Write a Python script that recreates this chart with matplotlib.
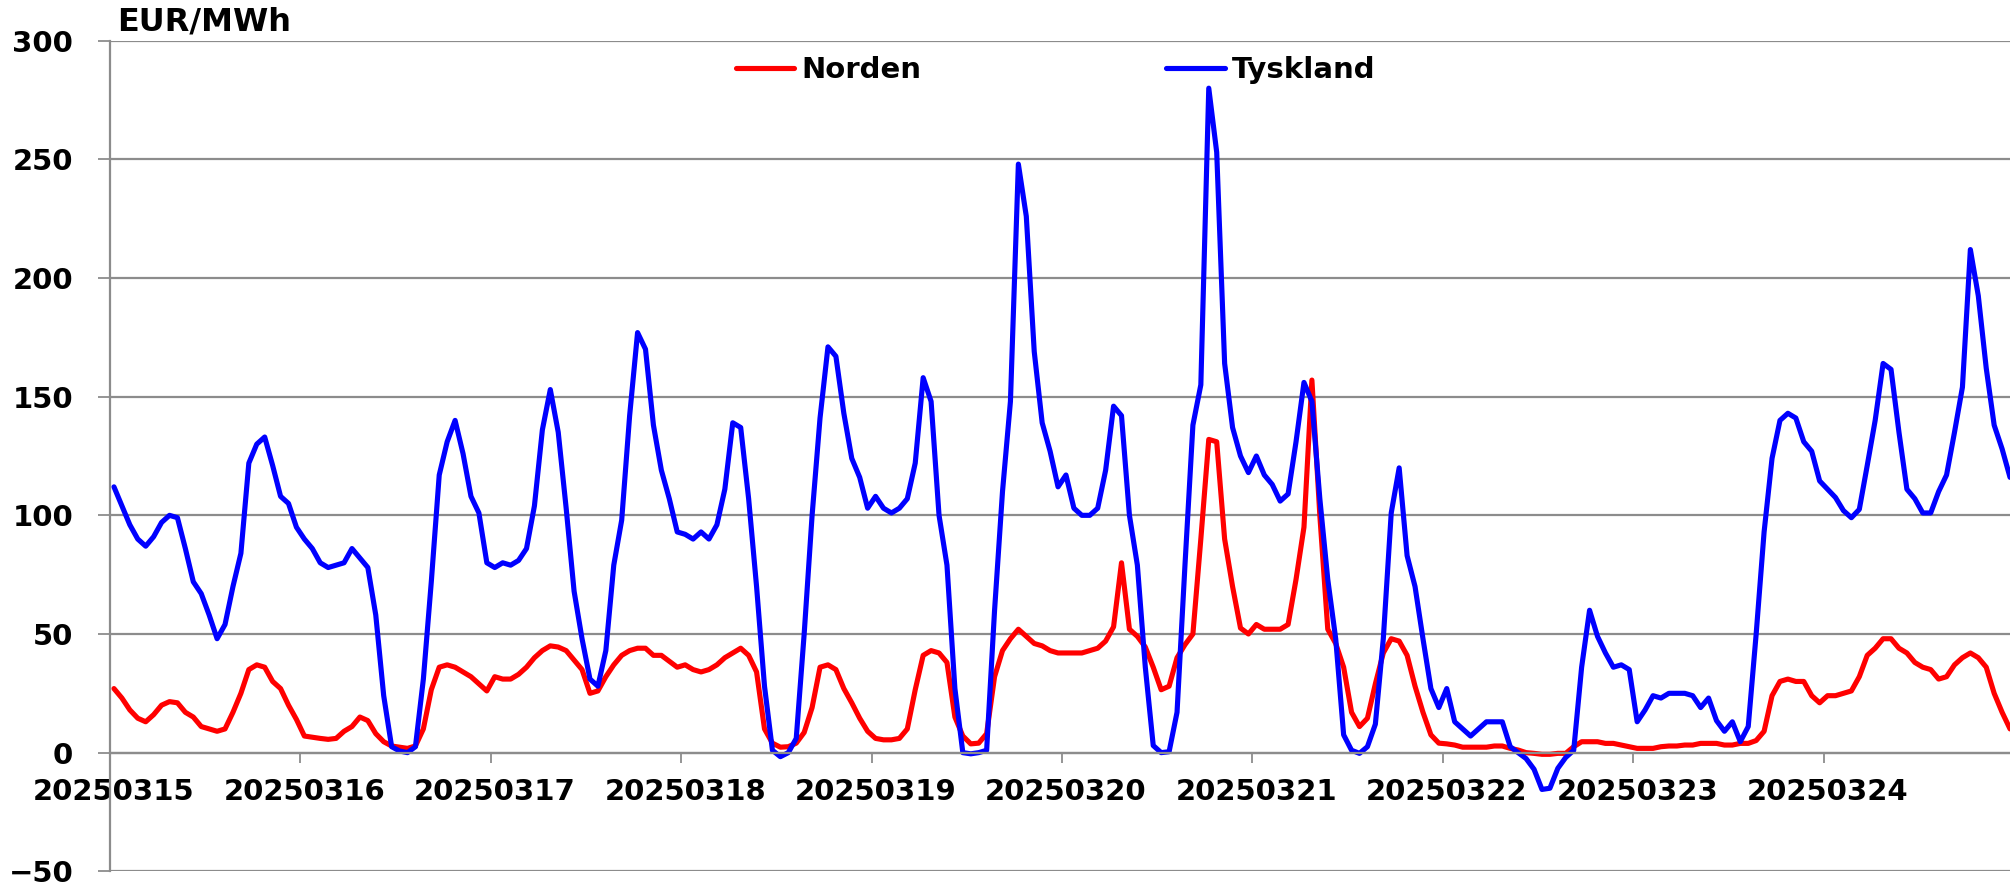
import numpy as np
import matplotlib
matplotlib.use("Agg")
import matplotlib.pyplot as plt

# daily labels on the category axis (24 hourly values per day)
days = ["20250315", "20250316", "20250317", "20250318", "20250319",
        "20250320", "20250321", "20250322", "20250323", "20250324"]

# hourly prices, EUR/MWh
norden = [
    27, 23, 18, 14.5, 13, 16, 20, 21.5, 21, 17, 15, 11, 10, 9, 10, 17, 25, 35, 37, 36, 30, 27, 20, 14,
    7, 6.5, 6, 5.6, 6, 9, 11, 15, 13.5, 8, 4.6, 2.8, 2.3, 1.8, 2.8, 10, 26.5, 36, 37, 36, 34, 32, 29, 26,
    32, 31, 31, 33, 36, 40, 43, 45, 44.5, 43, 39, 35, 25, 26, 32, 37, 41, 43, 44, 44, 41, 41, 38.5, 36,
    37, 35, 34, 35, 37, 40, 42, 44, 41, 34, 10, 4, 2.3, 2.5, 4, 8.5, 19, 36, 37, 35, 27, 21, 14.5, 9,
    6, 5.4, 5.4, 6, 10, 26.5, 41, 43, 42, 38, 15, 7, 3.7, 4, 8, 32, 43, 48, 52, 49, 46, 45, 43, 42,
    42, 42, 42, 43, 44, 47, 53, 80, 52, 49, 44.5, 36, 26.5, 28, 40, 45.5, 50, 90, 132, 131, 90, 70, 52.5, 50,
    54, 52, 52, 52, 54, 73, 95, 157, 100, 52, 46, 36, 17, 11, 14.5, 29, 42, 48, 47, 41, 28, 17, 7.5, 4,
    3.7, 3.2, 2.3, 2.3, 2.3, 2.3, 2.8, 2.8, 1.8, 1.1, 0, -0.3, -0.7, -0.7, -0.3, -0.3, 2.5, 4.6, 4.6, 4.6, 3.9, 3.9, 3.2, 2.5,
    1.8, 1.8, 1.8, 2.5, 2.8, 2.8, 3.2, 3.2, 3.9, 3.9, 3.9, 3.2, 3.2, 3.9, 3.9, 5.1, 9, 24, 30, 31, 30, 30, 24, 21,
    24, 24, 25, 26, 32, 41, 44, 48, 48, 44, 42, 38, 36, 35, 31, 32, 37, 40, 42, 40, 36, 25, 17, 10,
]
tyskland = [
    112, 104, 96, 90, 87, 91, 97, 100, 99, 86, 72, 67, 58, 48, 54, 70, 84, 122, 130, 133, 121, 108, 105, 95,
    90, 86, 80, 78, 79, 80, 86, 82, 78, 58, 24, 2.5, 0.7, 0, 2.5, 31, 72, 117, 131, 140, 126, 108, 101, 80,
    78, 80, 79, 81, 86, 104, 136, 153, 135, 103, 68, 48, 31, 28, 43, 79, 98, 142, 177, 170, 138, 119, 107, 93,
    92, 90, 93, 90, 96, 111, 139, 137, 107, 70, 28, 1, -1.7, 0, 6, 50, 100, 141, 171, 167, 143, 124, 116, 103,
    108, 103, 101, 103, 107, 122, 158, 148, 100, 79, 27, 0, -0.5, 0, 1, 60, 110, 148, 248, 226, 169, 139, 127, 112,
    117, 103, 100, 100, 103, 119, 146, 142, 100, 79, 36, 3, 0, 0.4, 17, 79, 138, 155, 280, 253, 164, 137, 125, 118,
    125, 117, 113, 106, 109, 131, 156, 148, 107, 73, 48, 7.5, 1, -0.3, 2.5, 12, 48, 101, 120, 83, 70, 48, 27, 19,
    27, 13, 10, 7, 10, 13, 13, 13, 2.5, 0, -2.5, -7, -15.5, -15, -6.6, -2, 1, 36, 60, 49, 42, 36, 37, 35,
    13, 18, 24, 23, 25, 25, 25, 24, 19, 23, 13.5, 9, 13, 4.6, 11, 50, 93, 124, 140, 143, 141, 131, 127, 114.5,
    111, 107.5, 102, 99, 102.5, 121, 140, 164, 161.5, 135, 111, 107, 101, 101, 110, 117, 135, 154, 212, 192.5, 162, 138, 128, 116,
]

grey = "#8c8c8c"
plt.rcParams["font.family"] = ["DejaVu Sans"]
plt.rcParams["font.weight"] = "bold"

fig = plt.figure(figsize=(20.1, 8.85), dpi=100)
ax = fig.add_axes([110 / 2010, 13.7 / 885, 1904 / 2010, 830.6 / 885])

hours = np.arange(len(norden))
ax.plot(hours, norden, color="#ff0000", lw=3.7, label="Norden",
        solid_joinstyle="round", solid_capstyle="round")
ax.plot(hours, tyskland, color="#0000ff", lw=3.7, label="Tyskland",
        solid_joinstyle="round", solid_capstyle="round")

ax.set_xlim(-0.5, len(norden) - 0.5)
ax.set_ylim(-50, 300)

# y axis
ax.set_yticks(np.arange(-50, 301, 50))
ax.yaxis.grid(True, color=grey, lw=1.6)
ax.set_axisbelow(True)
ax.tick_params(axis="y", length=8.5, width=1.3, color=grey, pad=18,
               labelsize=21)

# x axis: ticks at day boundaries, labels on the first hour of each day
ax.set_xticks(np.arange(0, len(norden) + 1, 24) - 0.5)
ax.set_xticklabels([])
ax.set_xticks(np.arange(0, len(norden), 24), minor=True)
ax.set_xticklabels(days, minor=True)
ax.tick_params(axis="x", which="major", length=7.5, width=1.3, color=grey)
ax.tick_params(axis="x", which="minor", length=0, pad=18, labelsize=21)

for side in ["top", "right"]:
    ax.spines[side].set_visible(False)
ax.spines["bottom"].set_position(("data", 0))
ax.spines["bottom"].set_color(grey)
ax.spines["bottom"].set_linewidth(1.6)
ax.spines["left"].set_color(grey)
ax.spines["left"].set_linewidth(1.6)

fig.text(117 / 2010, 1 - 22 / 885, "EUR/MWh", fontsize=23, fontweight="bold",
         va="center", ha="left")

fig.legend(loc="center left", bbox_to_anchor=(736 / 2010, 1 - 70 / 885),
           ncol=2, frameon=False, fontsize=21, handlelength=2.0,
           handletextpad=0.24, columnspacing=8.4, borderpad=0,
           borderaxespad=0)

fig.savefig("out.png", dpi=100)
